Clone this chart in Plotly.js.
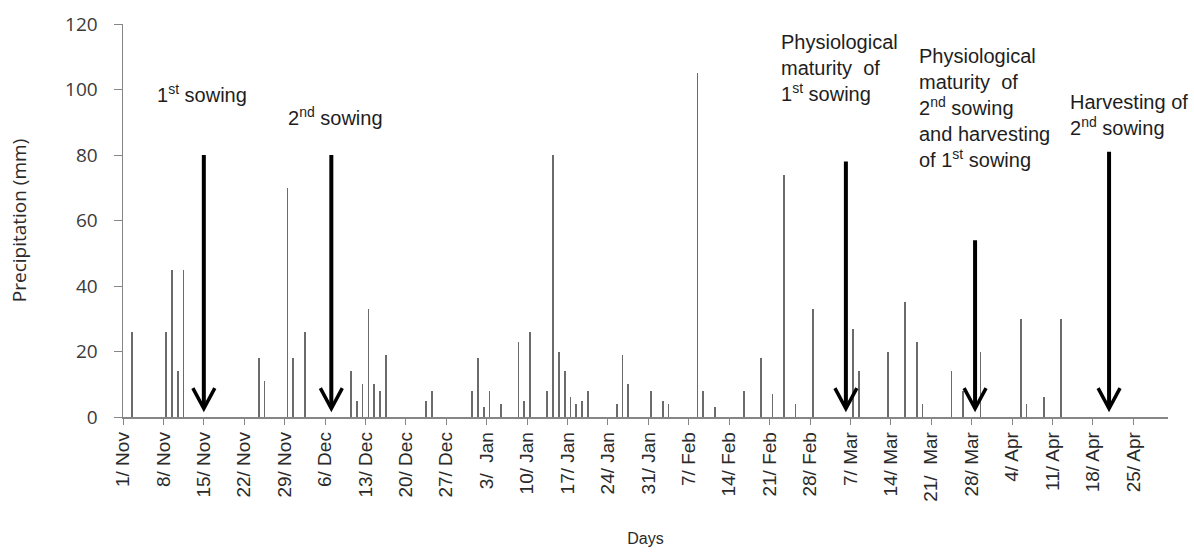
<!DOCTYPE html>
<html>
<head>
<meta charset="utf-8">
<script src="https://cdn.plot.ly/plotly-3.0.1.min.js"></script>
<style>html,body{margin:0;padding:0;background:#fff;}#chart{width:1194px;height:552px;}</style>
</head>
<body>
<div id="chart"></div>
<script>
// Season start (day 0 of the axis)
const seasonStart = '2010-11-01';
const seasonDays = 181;

// Rainy days and precipitation (mm)
const rainDates = [
  '2010-11-02','2010-11-08','2010-11-09','2010-11-10','2010-11-11','2010-11-24','2010-11-25','2010-11-29','2010-11-30',
  '2010-12-02','2010-12-10','2010-12-11','2010-12-12','2010-12-13','2010-12-14','2010-12-15','2010-12-16','2010-12-23','2010-12-24','2010-12-31',
  '2011-01-01','2011-01-02','2011-01-03','2011-01-05','2011-01-08','2011-01-09','2011-01-10','2011-01-13','2011-01-14','2011-01-15',
  '2011-01-16','2011-01-17','2011-01-18','2011-01-19','2011-01-20','2011-01-25','2011-01-26','2011-01-27','2011-01-31',
  '2011-02-02','2011-02-03','2011-02-08','2011-02-09','2011-02-11','2011-02-16','2011-02-19','2011-02-21','2011-02-23','2011-02-25','2011-02-28',
  '2011-03-07','2011-03-08','2011-03-13','2011-03-16','2011-03-18','2011-03-19','2011-03-24','2011-03-26','2011-03-29',
  '2011-04-05','2011-04-06','2011-04-09','2011-04-12'
];
const rainMm = [
  26,26,45,14,45,18,11,70,18,
  26,14,5,10,33,10,8,19,5,8,8,
  18,3,8,4,23,5,26,8,80,20,
  14,6,4,5,8,4,19,10,8,
  5,4,105,8,3,8,18,7,74,4,33,
  27,14,20,35,23,4,14,8,20,
  30,4,6,30
];

// Tick labels every 7 days
const tickLabels = ['1/ Nov','8/ Nov','15/ Nov','22/ Nov','29/ Nov','6/ Dec','13/ Dec','20/ Dec','27/ Dec',
  '3/  Jan','10/ Jan','17/ Jan','24/ Jan','31/ Jan','7/ Feb','14/ Feb','21/ Feb','28/ Feb',
  '7/ Mar','14/ Mar','21/  Mar','28/ Mar','4/ Apr','11/ Apr','18/ Apr','25/ Apr'];

// Crop events: arrow date (fractional), arrow top (mm)
const eventDates = ['2010-11-15 00:00','2010-12-07 02:00','2011-03-06 05:00','2011-03-28 14:00','2011-04-20 19:00'];
const eventTops = [80, 80, 78, 54, 81];

const dayIndex = s => (Date.parse(s.replace(' ', 'T') + (s.length > 10 ? ':00Z' : 'T00:00:00Z')) - Date.parse(seasonStart + 'T00:00:00Z')) / 864e5;

const xBars = rainDates.map(d => dayIndex(d) + 0.5);
const tickVals = tickLabels.map((_, i) => i * 7);

const trace = {
  type: 'bar',
  x: xBars,
  y: rainMm,
  width: 0.3,
  marker: {color: '#6b6b6b', line: {width: 0}},
  hoverinfo: 'x+y'
};

// Arrows as shapes (shaft + open chevron head)
const tipY = 2.6, headH = 6.2, headHalfW = 1.9;
const shapes = [];
eventDates.forEach((d, i) => {
  const xi = dayIndex(d);
  shapes.push({type: 'line', xref: 'x', yref: 'y', x0: xi, x1: xi, y0: eventTops[i], y1: tipY + 0.6,
    line: {color: '#000', width: 4}});
  shapes.push({type: 'path', xref: 'x', yref: 'y',
    path: 'M' + (xi - headHalfW) + ',' + (tipY + headH) + ' L' + xi + ',' + tipY + ' L' + (xi + headHalfW) + ',' + (tipY + headH),
    line: {color: '#000', width: 3.5}});
});

const txtFont = {family: 'Liberation Sans, Arial, sans-serif', size: 20, color: '#1e1e1e'};
const labels = [
  {x: 5.5, y: 98.7, text: '1<sup>st</sup> sowing'},
  {x: 28.3, y: 91.7, text: '2<sup>nd</sup> sowing'},
  {x: 113.7, y: 106.5, text: 'Physiological<br>maturity  of<br>1<sup>st</sup> sowing'},
  {x: 137.5, y: 94.5, text: 'Physiological<br>maturity  of<br>2<sup>nd</sup> sowing<br>and harvesting<br>of 1<sup>st</sup> sowing'},
  {x: 163.6, y: 92.1, text: 'Harvesting of<br>2<sup>nd</sup> sowing'}
];
const annotations = labels.map(l => ({
  x: l.x, y: l.y, xref: 'x', yref: 'y', xanchor: 'left', yanchor: 'middle', align: 'left',
  text: l.text, showarrow: false, font: txtFont
}));

const layout = {
  width: 1194, height: 552,
  margin: {l: 123, r: 26, t: 24, b: 135},
  paper_bgcolor: '#fff', plot_bgcolor: '#fff',
  showlegend: false,
  bargap: 0,
  xaxis: {
    range: [0, seasonDays],
    tickmode: 'array', tickvals: tickVals, ticktext: tickLabels,
    tickangle: -90,
    ticks: 'outside', ticklen: 6, tickcolor: '#868686', tickwidth: 1,
    showline: true, linecolor: '#868686', linewidth: 1.5,
    showgrid: false, zeroline: false,
    tickfont: {family: 'Liberation Sans, Arial, sans-serif', size: 19, color: '#2a2a2a'},
    title: {text: 'Days', standoff: 32, font: {family: 'Liberation Sans, Arial, sans-serif', size: 16, color: '#2a2a2a'}}
  },
  yaxis: {
    range: [0, 120], dtick: 20,
    ticks: 'outside', ticklen: 8, tickcolor: '#868686', tickwidth: 1,
    showline: true, linecolor: '#868686', linewidth: 1.5,
    showgrid: false, zeroline: false,
    ticklabelstandoff: 12,
    tickfont: {family: 'Open Sans, sans-serif', size: 19, color: '#3a3a3a'},
    title: {text: 'Precipitation (mm)', standoff: 33, font: {family: 'Open Sans, sans-serif', size: 19, color: '#2a2a2a'}}
  },
  shapes: shapes,
  annotations: annotations
};

Plotly.newPlot('chart', [trace], layout, {displayModeBar: false, staticPlot: true});
</script>
</body>
</html>
